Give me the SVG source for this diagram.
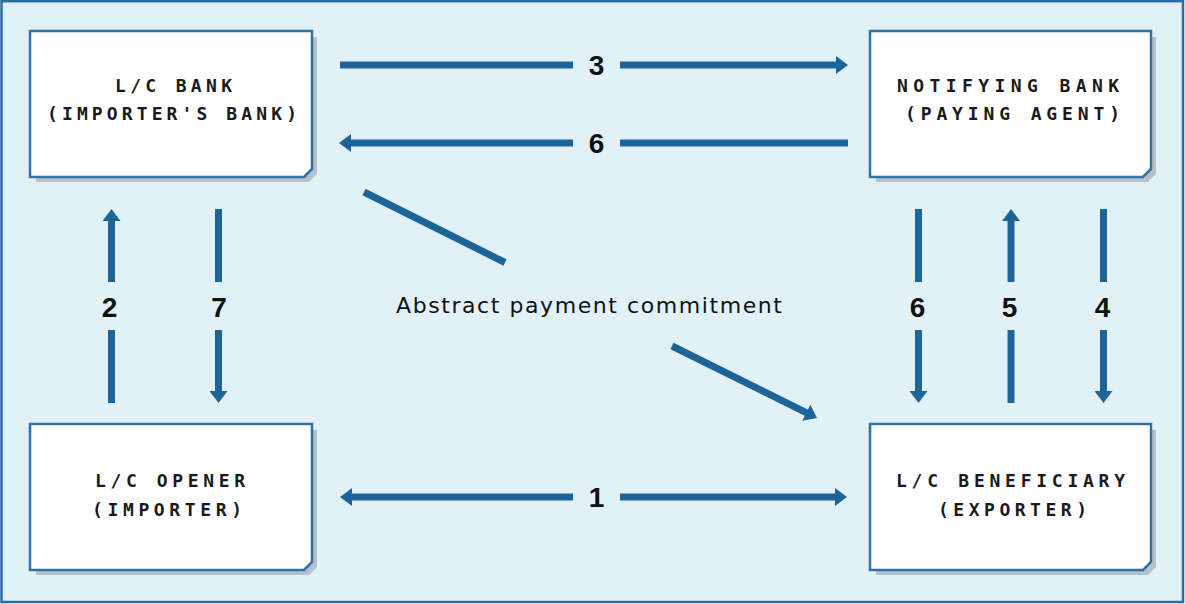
<svg xmlns="http://www.w3.org/2000/svg" width="1185" height="604" viewBox="0 0 1185 604">
<defs>
<style>
.frame{fill:#e2f1f8;stroke:#2b6c9c;stroke-width:2.5}
.shadow{fill:#b4c1ca}
.box{fill:#ffffff;stroke:#2f72a3;stroke-width:2.5}
.btxt{font-family:"DejaVu Sans Mono","Liberation Mono",monospace;font-size:18px;font-weight:bold;fill:#1a1a1a}
.num{font-family:"Liberation Sans",Arial,sans-serif;font-weight:bold;font-size:28px;fill:#111;text-anchor:middle}
.abs{font-family:"DejaVu Sans","Liberation Sans",sans-serif;font-size:22px;fill:#111}
.ln{stroke:#1d6598;stroke-width:7;fill:none;stroke-linecap:butt}
.arr{marker-end:url(#ah)}
</style>
<marker id="ah" markerUnits="userSpaceOnUse" viewBox="0 0 12 18" refX="1" refY="9" markerWidth="12" markerHeight="18" orient="auto">
<path d="M0,0 L12,9 L0,18 Z" fill="#1d6598"/>
</marker>
</defs>
<rect class="frame" x="1.5" y="1.2" width="1181.5" height="600.8"/>

<g id="lc-bank">
<path class="shadow" d="M36,37 H317 V174 L309,182 H36 Z"/>
<path class="box" d="M30,31 H312 V169 L304,177 H30 Z"/>
<text class="btxt" x="115" y="92" textLength="117" lengthAdjust="spacing">L/C BANK</text>
<text class="btxt" x="47" y="120" textLength="250" lengthAdjust="spacing">(IMPORTER'S BANK)</text>
</g>

<g id="notifying-bank">
<path class="shadow" d="M876,37 H1156 V174 L1148,182 H876 Z"/>
<path class="box" d="M870,31 H1151 V169 L1143,177 H870 Z"/>
<text class="btxt" x="897" y="92" textLength="222" lengthAdjust="spacing">NOTIFYING BANK</text>
<text class="btxt" x="905" y="120" textLength="215" lengthAdjust="spacing">(PAYING AGENT)</text>
</g>

<g id="lc-opener">
<path class="shadow" d="M36,430 H317 V567 L309,575 H36 Z"/>
<path class="box" d="M30,424 H312 V562 L304,570 H30 Z"/>
<text class="btxt" x="95" y="487" textLength="150" lengthAdjust="spacing">L/C OPENER</text>
<text class="btxt" x="92" y="516" textLength="150" lengthAdjust="spacing">(IMPORTER)</text>
</g>

<g id="lc-beneficiary">
<path class="shadow" d="M876,430 H1156 V567 L1148,575 H876 Z"/>
<path class="box" d="M870,424 H1151 V562 L1143,570 H870 Z"/>
<text class="btxt" x="896" y="487" textLength="229" lengthAdjust="spacing">L/C BENEFICIARY</text>
<text class="btxt" x="938" y="516" textLength="149" lengthAdjust="spacing">(EXPORTER)</text>
</g>

<g id="connectors">
<line class="ln" x1="340" y1="65" x2="573" y2="65"/>
<line class="ln arr" x1="620" y1="65" x2="837" y2="65"/>
<text class="num" x="596.5" y="75">3</text>
<line class="ln" x1="848" y1="143" x2="620" y2="143"/>
<line class="ln arr" x1="573" y1="143" x2="350" y2="143"/>
<text class="num" x="596.5" y="153">6</text>
<line class="ln arr" x1="573" y1="497" x2="351" y2="497"/>
<line class="ln arr" x1="620" y1="497" x2="836" y2="497"/>
<text class="num" x="596.5" y="507">1</text>
<line class="ln arr" x1="111.5" y1="282" x2="111.5" y2="220"/>
<line class="ln" x1="111.5" y1="330" x2="111.5" y2="403"/>
<text class="num" x="109.5" y="317">2</text>
<line class="ln" x1="218.5" y1="209" x2="218.5" y2="282"/>
<line class="ln arr" x1="218.5" y1="330" x2="218.5" y2="392"/>
<text class="num" x="219" y="317">7</text>
<line class="ln" x1="918.5" y1="209" x2="918.5" y2="282"/>
<line class="ln arr" x1="918.5" y1="330" x2="918.5" y2="392"/>
<text class="num" x="917.5" y="317">6</text>
<line class="ln arr" x1="1011" y1="282" x2="1011" y2="220"/>
<line class="ln" x1="1011" y1="330" x2="1011" y2="403"/>
<text class="num" x="1009.5" y="317">5</text>
<line class="ln" x1="1103.5" y1="209" x2="1103.5" y2="282"/>
<line class="ln arr" x1="1103.5" y1="330" x2="1103.5" y2="392"/>
<text class="num" x="1102.5" y="317">4</text>
<line class="ln" x1="364" y1="192" x2="505" y2="262.5"/>
<line class="ln arr" x1="672" y1="346" x2="807.2" y2="413.1"/>
<text class="abs" x="396" y="313" textLength="386" lengthAdjust="spacing">Abstract payment commitment</text>
</g>
</svg>
